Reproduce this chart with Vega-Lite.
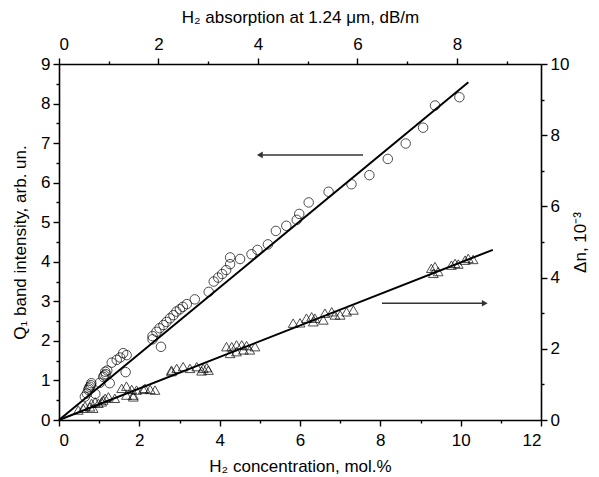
{
  "$schema": "https://vega.github.io/schema/vega-lite/v6.json",
  "autosize": {"type": "none"},
  "width": 482,
  "height": 356,
  "padding": {"left": 59, "top": 64, "right": 58, "bottom": 57},
  "background": "white",
  "config": {
    "view": {"stroke": null},
    "font": "Liberation Sans",
    "axis": {
      "labelFont": "Liberation Sans",
      "titleFont": "Liberation Sans",
      "labelFontSize": 17,
      "titleFontSize": 17,
      "titleFontWeight": "normal",
      "labelColor": "black",
      "titleColor": "black",
      "domainColor": "black",
      "tickColor": "black",
      "domainWidth": 1.6,
      "tickWidth": 1.4,
      "grid": false
    }
  },
  "datasets": {
    "circles": [
      {"abs": 8.05, "q": 8.16}, {"abs": 7.56, "q": 7.95}, {"abs": 7.32, "q": 7.39}, {"abs": 6.97, "q": 6.99},
      {"abs": 6.61, "q": 6.60}, {"abs": 6.24, "q": 6.19}, {"abs": 5.88, "q": 5.96}, {"abs": 5.42, "q": 5.77},
      {"abs": 5.02, "q": 5.50}, {"abs": 4.83, "q": 5.21}, {"abs": 4.78, "q": 5.06}, {"abs": 4.57, "q": 4.91},
      {"abs": 4.36, "q": 4.78}, {"abs": 4.20, "q": 4.44}, {"abs": 3.99, "q": 4.30}, {"abs": 3.87, "q": 4.19},
      {"abs": 3.64, "q": 4.07}, {"abs": 3.44, "q": 4.11}, {"abs": 3.44, "q": 3.94}, {"abs": 3.36, "q": 3.79},
      {"abs": 3.28, "q": 3.69}, {"abs": 3.20, "q": 3.60}, {"abs": 3.11, "q": 3.50}, {"abs": 3.01, "q": 3.24},
      {"abs": 2.73, "q": 3.05}, {"abs": 2.57, "q": 2.93}, {"abs": 2.49, "q": 2.86}, {"abs": 2.43, "q": 2.80},
      {"abs": 2.36, "q": 2.74}, {"abs": 2.30, "q": 2.65}, {"abs": 2.23, "q": 2.57}, {"abs": 2.16, "q": 2.48},
      {"abs": 2.10, "q": 2.40}, {"abs": 2.02, "q": 2.32}, {"abs": 1.96, "q": 2.23}, {"abs": 1.88, "q": 2.12},
      {"abs": 1.88, "q": 2.04}, {"abs": 2.05, "q": 1.85}, {"abs": 1.36, "q": 1.64}, {"abs": 1.29, "q": 1.69},
      {"abs": 1.23, "q": 1.58}, {"abs": 1.16, "q": 1.52}, {"abs": 1.06, "q": 1.45}, {"abs": 1.34, "q": 1.21},
      {"abs": 0.93, "q": 1.22}, {"abs": 0.94, "q": 1.16}, {"abs": 0.89, "q": 1.09}, {"abs": 0.97, "q": 1.25},
      {"abs": 0.91, "q": 1.13}, {"abs": 1.02, "q": 0.93}, {"abs": 0.82, "q": 0.94}, {"abs": 0.65, "q": 0.93},
      {"abs": 0.62, "q": 0.84}, {"abs": 0.59, "q": 0.76}, {"abs": 0.56, "q": 0.67}, {"abs": 0.52, "q": 0.59},
      {"abs": 0.73, "q": 0.66}, {"abs": 0.60, "q": 0.80}, {"abs": 0.64, "q": 0.88}
    ],
    "triangles": [
      {"conc": 9.27, "dn": 4.26}, {"conc": 9.36, "dn": 4.31}, {"conc": 9.44, "dn": 4.17}, {"conc": 9.32, "dn": 4.12},
      {"conc": 9.77, "dn": 4.35}, {"conc": 9.86, "dn": 4.40}, {"conc": 9.94, "dn": 4.38}, {"conc": 10.11, "dn": 4.49},
      {"conc": 10.19, "dn": 4.54}, {"conc": 10.31, "dn": 4.51},
      {"conc": 5.83, "dn": 2.72}, {"conc": 6.00, "dn": 2.73}, {"conc": 6.16, "dn": 2.86}, {"conc": 6.29, "dn": 2.90},
      {"conc": 6.37, "dn": 2.86}, {"conc": 6.62, "dn": 3.00}, {"conc": 6.79, "dn": 3.04}, {"conc": 6.87, "dn": 2.95},
      {"conc": 7.00, "dn": 2.95}, {"conc": 7.16, "dn": 3.04}, {"conc": 7.33, "dn": 3.09}, {"conc": 6.58, "dn": 2.81},
      {"conc": 6.33, "dn": 2.76},
      {"conc": 4.17, "dn": 2.06}, {"conc": 4.30, "dn": 2.06}, {"conc": 4.42, "dn": 2.11}, {"conc": 4.55, "dn": 2.11},
      {"conc": 4.67, "dn": 2.09}, {"conc": 4.88, "dn": 2.06}, {"conc": 4.26, "dn": 1.87}, {"conc": 4.42, "dn": 1.92},
      {"conc": 4.59, "dn": 1.97}, {"conc": 4.75, "dn": 1.97},
      {"conc": 2.80, "dn": 1.40}, {"conc": 2.93, "dn": 1.45}, {"conc": 3.09, "dn": 1.50}, {"conc": 3.26, "dn": 1.45},
      {"conc": 3.43, "dn": 1.50}, {"conc": 3.59, "dn": 1.45}, {"conc": 3.72, "dn": 1.40}, {"conc": 3.68, "dn": 1.47},
      {"conc": 2.80, "dn": 1.36}, {"conc": 3.55, "dn": 1.38},
      {"conc": 1.56, "dn": 0.89}, {"conc": 1.68, "dn": 0.95}, {"conc": 1.81, "dn": 0.86}, {"conc": 1.93, "dn": 0.84},
      {"conc": 2.10, "dn": 0.86}, {"conc": 2.27, "dn": 0.86}, {"conc": 2.39, "dn": 0.84}, {"conc": 2.14, "dn": 0.89},
      {"conc": 1.85, "dn": 0.65}, {"conc": 1.68, "dn": 0.70}, {"conc": 1.23, "dn": 0.65}, {"conc": 1.39, "dn": 0.61},
      {"conc": 1.10, "dn": 0.56}, {"conc": 1.15, "dn": 0.61}, {"conc": 0.98, "dn": 0.47}, {"conc": 0.90, "dn": 0.51},
      {"conc": 1.06, "dn": 0.51}, {"conc": 0.77, "dn": 0.37}, {"conc": 0.81, "dn": 0.47}, {"conc": 0.60, "dn": 0.33},
      {"conc": 0.85, "dn": 0.33}, {"conc": 0.48, "dn": 0.28}, {"conc": 0.65, "dn": 0.39}, {"conc": 1.85, "dn": 0.70}
    ],
    "circleFit": [{"abs": 0, "q": 0}, {"abs": 8.23, "q": 8.54}],
    "triangleFit": [{"conc": 0, "dn": 0}, {"conc": 10.8, "dn": 4.78}],
    "arrowLeft": [{"start": 7.57, "end": 5.0, "level": 6.7}],
    "arrowRight": [{"start": 8.04, "end": 10.6, "level": 3.28}]
  },
  "layer": [
    {
      "data": {"name": "circles"},
      "mark": {"type": "point", "shape": "circle", "filled": false, "stroke": "black", "strokeWidth": 1, "size": 90},
      "encoding": {
        "x": {"field": "abs", "type": "quantitative",
          "scale": {"domain": [0, 9.69], "nice": false, "zero": false},
          "axis": {"orient": "top", "title": "H₂ absorption at 1.24 μm, dB/m",
            "values": [0, 1, 2, 3, 4, 5, 6, 7, 8, 9],
            "labelExpr": "datum.value % 2 === 0 ? format(datum.value, 'd') : ''",
            "tickSize": {"condition": {"test": "datum.value % 2 !== 0", "value": 3}, "value": 6},
            "labelPadding": 5, "titlePadding": 9}},
        "y": {"field": "q", "type": "quantitative",
          "scale": {"domain": [0, 9], "nice": false, "zero": false},
          "axis": {"orient": "left", "title": "Q₁ band intensity, arb. un.",
            "values": [0, 0.5, 1, 1.5, 2, 2.5, 3, 3.5, 4, 4.5, 5, 5.5, 6, 6.5, 7, 7.5, 8, 8.5, 9],
            "labelExpr": "datum.value % 1 === 0 ? format(datum.value, 'd') : ''",
            "tickSize": {"condition": {"test": "datum.value % 1 !== 0", "value": 3}, "value": 6},
            "labelPadding": 3, "titlePadding": 11}}
      }
    },
    {
      "data": {"name": "circleFit"},
      "mark": {"type": "line", "color": "black", "strokeWidth": 2},
      "encoding": {
        "x": {"field": "abs", "type": "quantitative", "scale": {"domain": [0, 9.69], "nice": false, "zero": false}, "axis": null},
        "y": {"field": "q", "type": "quantitative", "scale": {"domain": [0, 9], "nice": false, "zero": false}, "axis": null}
      }
    },
    {
      "data": {"name": "triangles"},
      "mark": {"type": "point", "shape": "triangle-up", "filled": false, "stroke": "black", "strokeWidth": 1, "size": 95},
      "encoding": {
        "x": {"field": "conc", "type": "quantitative",
          "scale": {"domain": [0, 12], "nice": false, "zero": false},
          "axis": {"orient": "bottom", "title": "H₂ concentration, mol.%",
            "values": [0, 1, 2, 3, 4, 5, 6, 7, 8, 9, 10, 11, 12],
            "labelExpr": "datum.value % 2 === 0 ? format(datum.value, 'd') : ''",
            "tickSize": {"condition": {"test": "datum.value % 2 !== 0", "value": 3}, "value": 6},
            "labelPadding": 6, "titlePadding": 10}},
        "y": {"field": "dn", "type": "quantitative",
          "scale": {"domain": [0, 10], "nice": false, "zero": false},
          "axis": {"orient": "right", "title": "Δn, 10⁻³", "titleAngle": -90, "titleBaseline": "top",
            "values": [0, 1, 2, 3, 4, 5, 6, 7, 8, 9, 10],
            "labelExpr": "datum.value % 2 === 0 ? format(datum.value, 'd') : ''",
            "tickSize": {"condition": {"test": "datum.value % 2 !== 0", "value": 3}, "value": 6},
            "labelPadding": 3, "titlePadding": 4}}
      }
    },
    {
      "data": {"name": "triangleFit"},
      "mark": {"type": "line", "color": "black", "strokeWidth": 2},
      "encoding": {
        "x": {"field": "conc", "type": "quantitative", "scale": {"domain": [0, 12], "nice": false, "zero": false}, "axis": null},
        "y": {"field": "dn", "type": "quantitative", "scale": {"domain": [0, 10], "nice": false, "zero": false}, "axis": null}
      }
    },
    {
      "data": {"name": "arrowLeft"},
      "mark": {"type": "rule", "color": "#333", "strokeWidth": 1.5},
      "encoding": {
        "x": {"field": "start", "type": "quantitative", "scale": {"domain": [0, 12], "nice": false, "zero": false}, "axis": null},
        "x2": {"field": "end"},
        "y": {"field": "level", "type": "quantitative", "scale": {"domain": [0, 9], "nice": false, "zero": false}, "axis": null}
      }
    },
    {
      "data": {"name": "arrowLeft"},
      "mark": {"type": "point", "shape": "triangle-left", "filled": true, "color": "#333", "size": 45, "opacity": 1},
      "encoding": {
        "x": {"field": "end", "type": "quantitative", "scale": {"domain": [0, 12], "nice": false, "zero": false}, "axis": null},
        "y": {"field": "level", "type": "quantitative", "scale": {"domain": [0, 9], "nice": false, "zero": false}, "axis": null}
      }
    },
    {
      "data": {"name": "arrowRight"},
      "mark": {"type": "rule", "color": "#333", "strokeWidth": 1.5},
      "encoding": {
        "x": {"field": "start", "type": "quantitative", "scale": {"domain": [0, 12], "nice": false, "zero": false}, "axis": null},
        "x2": {"field": "end"},
        "y": {"field": "level", "type": "quantitative", "scale": {"domain": [0, 10], "nice": false, "zero": false}, "axis": null}
      }
    },
    {
      "data": {"name": "arrowRight"},
      "mark": {"type": "point", "shape": "triangle-right", "filled": true, "color": "#333", "size": 45, "opacity": 1},
      "encoding": {
        "x": {"field": "end", "type": "quantitative", "scale": {"domain": [0, 12], "nice": false, "zero": false}, "axis": null},
        "y": {"field": "level", "type": "quantitative", "scale": {"domain": [0, 10], "nice": false, "zero": false}, "axis": null}
      }
    }
  ],
  "resolve": {
    "scale": {"x": "independent", "y": "independent"},
    "axis": {"x": "independent", "y": "independent"}
  }
}
